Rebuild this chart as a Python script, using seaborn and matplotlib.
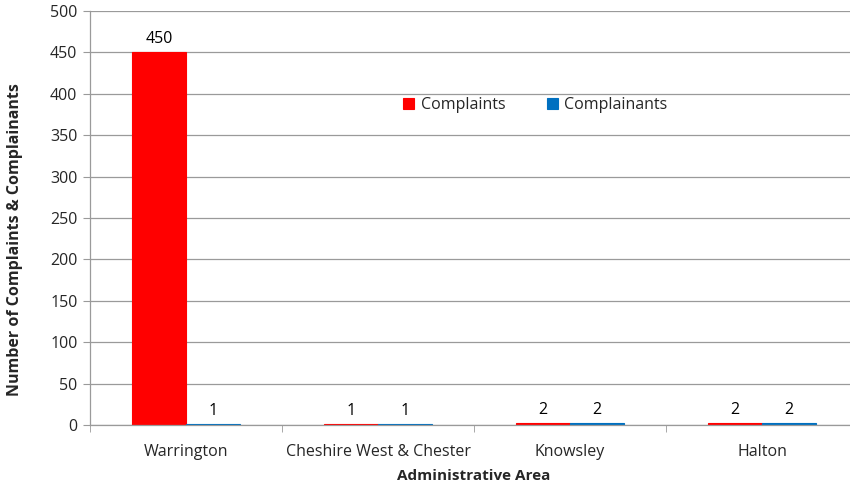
import pandas as pd
import numpy as np
import seaborn as sns
import matplotlib.pyplot as plt
from matplotlib.ticker import FixedLocator

# data
areas = ["Warrington", "Cheshire West & Chester", "Knowsley", "Halton"]
complaints = [450, 1, 2, 2]
complainants = [1, 1, 2, 2]
series_names = ["Complaints", "Complainants"]
colors = ["#FF0000", "#0070C0"]

df = pd.DataFrame({
    "area": areas * 2,
    "value": complaints + complainants,
    "series": [series_names[0]] * len(areas) + [series_names[1]] * len(areas),
})

sns.set_style("white")
plt.rcParams['font.family'] = ['Open Sans', 'DejaVu Sans']

fig = plt.figure(figsize=(8.5, 4.88), dpi=100)
# axes run slightly past the right edge, like the source image
ax = fig.add_axes([90 / 850, 63 / 488, 768 / 850, 414 / 488])

sns.barplot(data=df, x="area", y="value", hue="series", order=areas,
            hue_order=series_names, palette=colors, width=0.56,
            saturation=1, ax=ax, legend=True)

# solid edges so the tiny bars still show as a thin line
for p in ax.patches:
    p.set_edgecolor(p.get_facecolor())
    p.set_linewidth(0.8)

for cont in ax.containers:
    ax.bar_label(cont, padding=4, fontsize=11.5, color="#000000")

ax.set_ylim(0, 500)
ax.set_yticks(np.arange(0, 501, 50))
ax.set_xlim(-0.5, len(areas) - 0.5)
ax.yaxis.grid(True, color="#9a9a9a", linewidth=0.9)
ax.set_axisbelow(True)

for side in ["top", "right"]:
    ax.spines[side].set_visible(False)
for side in ["left", "bottom"]:
    ax.spines[side].set_color("#9a9a9a")
    ax.spines[side].set_linewidth(0.9)

ax.tick_params(axis="y", length=5, color="#9a9a9a", labelsize=11.5, pad=4, left=True)
ax.tick_params(axis="x", which="major", length=0, labelsize=11.5, pad=14)
ax.xaxis.set_minor_locator(FixedLocator(np.arange(-0.5, len(areas), 1.0)))
ax.tick_params(axis="x", which="minor", length=5, color="#9a9a9a", bottom=True)

ax.set_xlabel("Administrative Area", fontsize=11, fontweight="bold", labelpad=6)
ax.set_ylabel("Number of Complaints & Complainants", fontsize=11.5, fontweight="bold")
ax.yaxis.set_label_coords(-0.087, 0.447)

ax.legend(loc="center", bbox_to_anchor=(0.58, 0.773), ncol=2, frameon=False,
          fontsize=11.5, handlelength=0.7, handleheight=0.7, handletextpad=0.4,
          columnspacing=2.6)

fig.savefig("out.png", dpi=100)
